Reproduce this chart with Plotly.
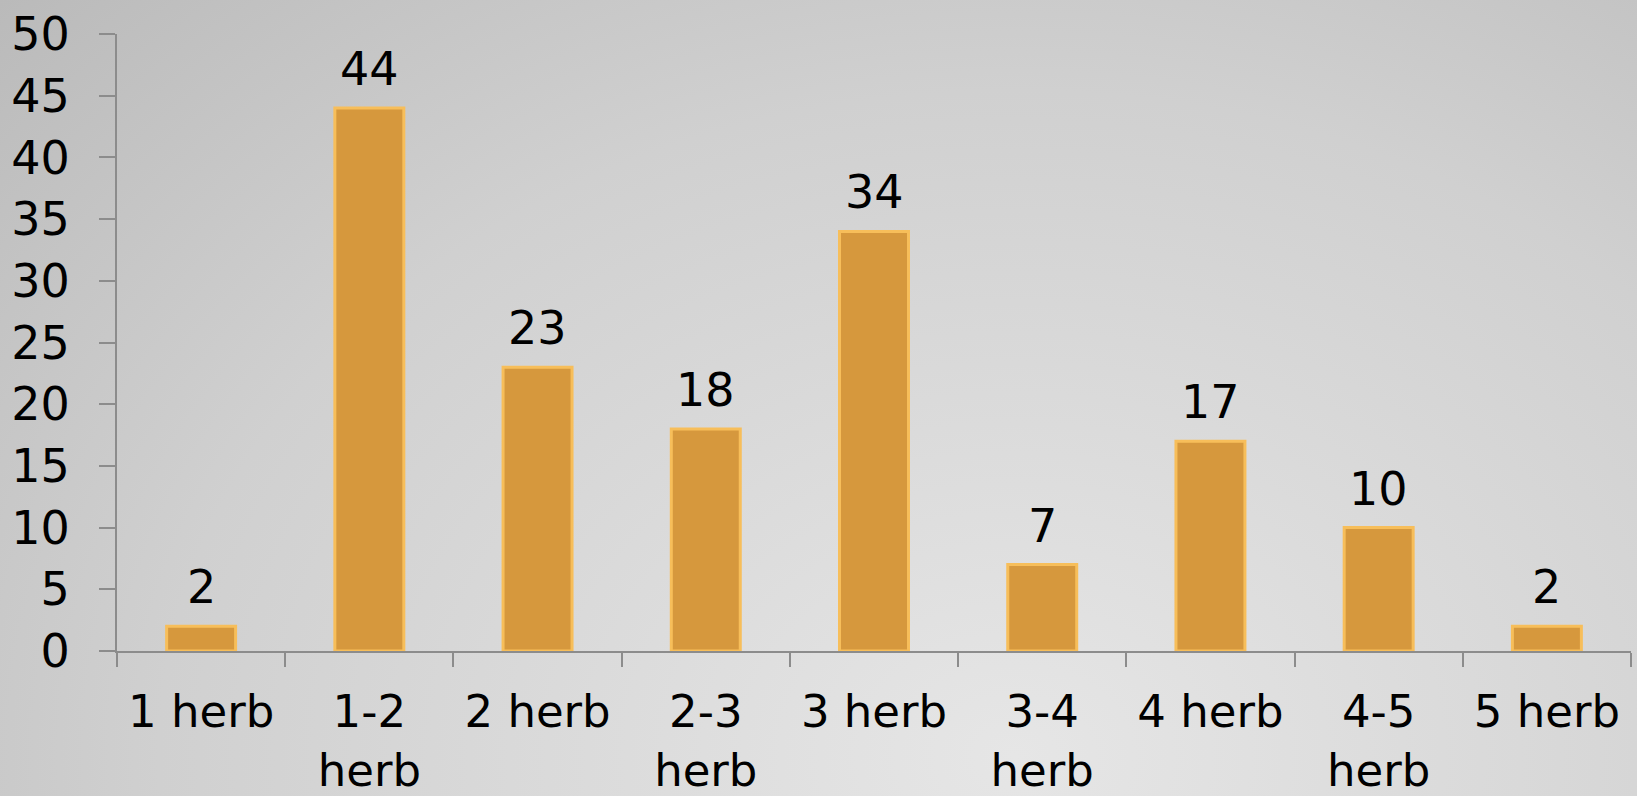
import base64
import plotly.graph_objects as go

categories = ["1 herb", "1-2<br>herb", "2 herb", "2-3<br>herb", "3 herb",
              "3-4<br>herb", "4 herb", "4-5<br>herb", "5 herb"]
values = [2, 44, 23, 18, 34, 7, 17, 10, 2]
y_tickvals = [0, 5, 10, 15, 20, 25, 30, 35, 40, 45, 50]

W, H = 1637, 796
ML, MR, MT, MB = 117, 6, 34, 145
PW, PH = W - ML - MR, H - MT - MB

svg = f'''<svg xmlns="http://www.w3.org/2000/svg" width="{W}" height="{H}" viewBox="0 0 {W} {H}" preserveAspectRatio="none">
<defs><radialGradient id="g" cx="0.62" cy="0.95" r="0.95" gradientTransform="translate(0.62 0.95) scale(1 1.6) translate(-0.62 -0.95)">
<stop offset="0" stop-color="#E6E6E6"/><stop offset="0.55" stop-color="#D0D0D0"/><stop offset="1" stop-color="#B4B4B4"/>
</radialGradient></defs><rect width="{W}" height="{H}" fill="url(#g)"/></svg>'''
bg_uri = "data:image/svg+xml;base64," + base64.b64encode(svg.encode()).decode()

font = "DejaVu Sans, Verdana, sans-serif"

fig = go.Figure()
fig.add_trace(go.Bar(
    x=categories, y=values,
    marker=dict(color="#D6983D", line=dict(color="#F7BE5A", width=3)),
))

for c, v in zip(categories, values):
    fig.add_annotation(x=c, y=v, text=str(v), showarrow=False,
                       yanchor="bottom", yshift=10,
                       font=dict(family=font, size=46, color="#000000"))

fig.update_layout(
    width=W, height=H,
    margin=dict(l=ML, r=MR, t=MT, b=MB, autoexpand=False),
    paper_bgcolor="#CFCFCF",
    plot_bgcolor="rgba(0,0,0,0)",
    bargap=0.59,
    showlegend=False,
    font=dict(family=font, size=46, color="#000000"),
    images=[dict(source=bg_uri, xref="paper", yref="paper",
                 x=-ML / PW, y=1 + MT / PH, sizex=W / PW, sizey=H / PH,
                 xanchor="left", yanchor="top", sizing="stretch", layer="below")],
    xaxis=dict(
        type="category", showgrid=False, showline=True, linecolor="#8C8C8C", linewidth=2,
        ticks="outside", tickson="boundaries", ticklen=14, tickcolor="#8C8C8C", tickwidth=2,
        tickfont=dict(family=font, size=45, color="#000000"),
        ticklabelstandoff=20, automargin=False,
    ),
    yaxis=dict(
        range=[0, 50], tickvals=y_tickvals, showgrid=False, zeroline=False,
        showline=True, linecolor="#8C8C8C", linewidth=2,
        ticks="outside", ticklen=16, tickcolor="#8C8C8C", tickwidth=2,
        tickfont=dict(family=font, size=46, color="#000000"),
        ticklabelstandoff=20, automargin=False,
    ),
)

fig.write_html("out.html", config={"displayModeBar": False},
               post_script="document.body.style.margin='0';")
